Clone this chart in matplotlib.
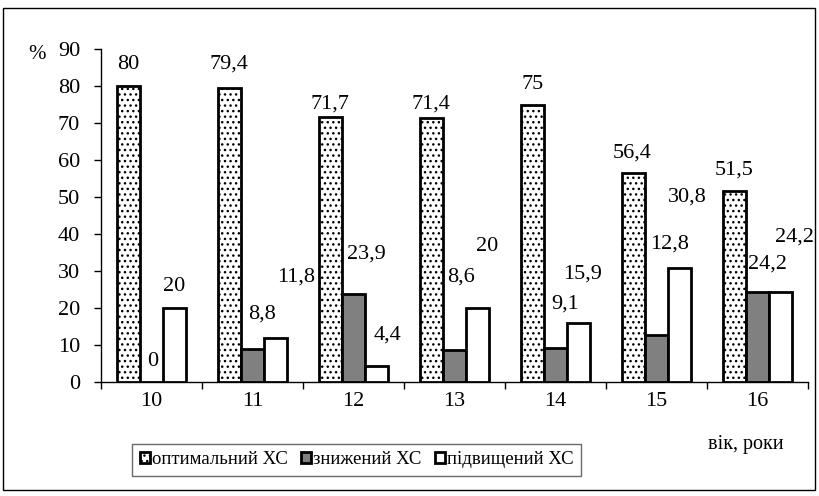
import matplotlib
matplotlib.use("Agg")
import matplotlib.pyplot as plt
from matplotlib.patches import Rectangle
import numpy as np

plt.rcParams["font.family"] = ["Liberation Serif", "DejaVu Serif"]
plt.rcParams["hatch.linewidth"] = 1.0
plt.rcParams["hatch.color"] = "#444444"

ages = ["10", "11", "12", "13", "14", "15", "16"]
series_names = ["оптимальний ХС", "знижений ХС", "підвищений ХС"]
optimal = [80, 79.4, 71.7, 71.4, 75, 56.4, 51.5]
lowered = [0, 8.8, 23.9, 8.6, 9.1, 12.8, 24.2]
raised = [20, 11.8, 4.4, 20, 15.9, 30.8, 24.2]

# label placement (x offset from group centre, y in %), as Excel put them
label_pos = [
    [(-0.227, 85.8), (-0.227, 86.0), (-0.227, 75.2), (-0.227, 75.2),
     (-0.227, 80.5), (-0.235, 61.8), (-0.227, 57.2)],
    [(0.01, 5.6), (0.10, 18.5), (0.13, 34.5), (0.07, 28.5),
     (0.10, 21.2), (0.13, 37.4), (0.10, 32.0)],
    [(0.228, 25.8), (0.435, 28.5), (0.336, 12.6), (0.326, 36.6),
     (0.267, 29.3), (0.307, 50.1), (0.366, 39.3)],
]


def fmt(v):
    return ("%g" % v).replace(".", ",")


def main():
    fig = plt.figure(figsize=(8.2, 4.96), dpi=100)
    ax = fig.add_axes([0.123, 0.2298, 0.862, 0.6714])

    x = np.arange(len(ages))
    w = 0.227
    styles = [
        dict(facecolor="white", hatch="...", edgecolor="black"),
        dict(facecolor="#808080", edgecolor="black"),
        dict(facecolor="white", edgecolor="black"),
    ]
    handles = []
    for i, (vals, st) in enumerate(zip([optimal, lowered, raised], styles)):
        b = ax.bar(x + (i - 1) * w, vals, width=w, linewidth=2.0,
                   label=series_names[i], zorder=3, **st)
        handles.append(b)
        for j, v in enumerate(vals):
            dx, ly = label_pos[i][j]
            ax.text(x[j] + dx, ly, fmt(v), ha="center", va="center",
                    fontsize=16)

    ax.set_xlim(-0.5, len(ages) - 0.5)
    ax.set_ylim(0, 90)
    ax.set_yticks(range(0, 91, 10))
    ax.set_xticks(x)
    ax.set_xticklabels(ages)
    ax.set_xticks(np.arange(-0.5, len(ages), 1.0), minor=True)
    ax.tick_params(axis="x", which="major", length=0, labelsize=16, pad=7)
    ax.tick_params(axis="x", which="minor", length=5, width=1)
    ax.tick_params(axis="y", length=5, width=1, labelsize=16, pad=10)
    for s in ["top", "right"]:
        ax.spines[s].set_visible(False)
    for s in ["left", "bottom"]:
        ax.spines[s].set_linewidth(1.0)

    fig.text(0.045, 0.89, "%", fontsize=15, ha="center", va="center")
    fig.text(0.909, 0.103, "вік, роки", fontsize=14.5, ha="center",
             va="center")

    leg = fig.legend(handles=handles, loc="center", ncol=3,
                     bbox_to_anchor=(0.435, 0.073), fontsize=13.5,
                     frameon=True, fancybox=False, edgecolor="#444444",
                     handlelength=0.55, handleheight=0.55, handletextpad=0.1,
                     columnspacing=0.7, borderpad=0.4)
    leg.get_frame().set_linewidth(1.0)

    fig.add_artist(Rectangle((3 / 820, 6 / 496), 812 / 820, 482 / 496,
                             transform=fig.transFigure, fill=False,
                             edgecolor="black", linewidth=1.0))

    fig.savefig("out.png", dpi=100)


if __name__ == "__main__":
    main()
